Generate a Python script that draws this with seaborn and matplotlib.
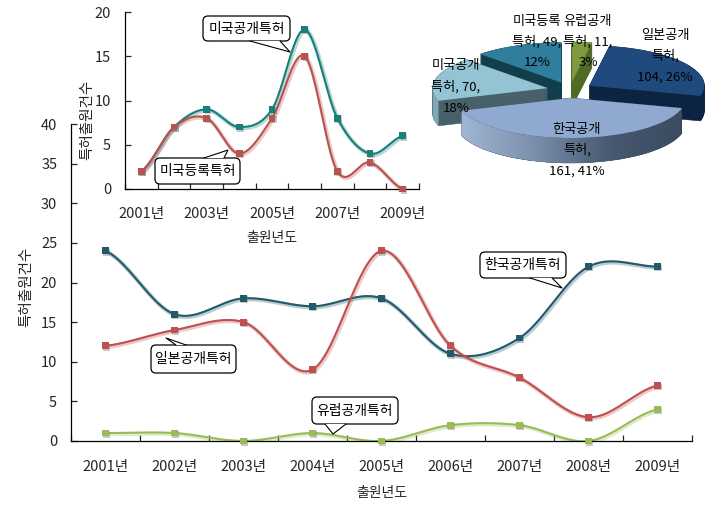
import numpy as np
import pandas as pd
import matplotlib
matplotlib.use("Agg")
import matplotlib.pyplot as plt
import matplotlib.patheffects as pe
from matplotlib.patches import FancyBboxPatch, Polygon
import seaborn as sns

years = ["2001년", "2002년", "2003년", "2004년", "2005년", "2006년", "2007년", "2008년", "2009년"]
korea_pub = [24, 16, 18, 17, 18, 11, 13, 22, 22]
japan_pub = [12, 14, 15, 9, 24, 12, 8, 3, 7]
europe_pub = [1, 1, 0, 1, 0, 2, 2, 0, 4]
us_pub = [2, 7, 9, 7, 9, 18, 8, 4, 6]
us_reg = [2, 7, 8, 4, 8, 15, 2, 3, 0]

# clockwise from 12 o'clock
pie_names = ["유럽공개", "일본공개", "한국공개", "미국공개", "미국등록"]
pie_values = [11, 104, 161, 70, 49]

W, H = 720, 507

sns.set_theme(style="white")
plt.rcParams['font.family'] = ['Noto Sans CJK KR', 'DejaVu Sans']
plt.rcParams['text.color'] = '#111111'
plt.rcParams['axes.edgecolor'] = 'black'


def box(x0, y0, x1, y1):
    return [x0 / W, 1 - y1 / H, (x1 - x0) / W, (y1 - y0) / H]


def smooth(values, n=24):
    # same kind of curve as the spreadsheet "smoothed line" option
    y = np.array(values, dtype=float)
    xs, ys = [], []
    for i in range(len(y) - 1):
        p0, p1, p2, p3 = y[max(i - 1, 0)], y[i], y[i + 1], y[min(i + 2, len(y) - 1)]
        c1 = p1 + (p2 - p0) / 6
        c2 = p2 - (p3 - p1) / 6
        t = np.linspace(0, 1, n)
        ys.extend((1 - t) ** 3 * p1 + 3 * (1 - t) ** 2 * t * c1 + 3 * (1 - t) * t ** 2 * c2 + t ** 3 * p2)
        xs.extend(i + t)
    return xs, ys


def draw_lines(ax, series, palette, xlabel, ticks_every, pad, labelpad, ylabel_pos):
    frames, points = [], []
    for name, vals in series.items():
        xs, ys = smooth(vals)
        frames.append(pd.DataFrame({"x": xs, "y": ys, "s": name}))
        points.append(pd.DataFrame({"x": range(len(vals)), "y": vals, "s": name}))
    line_df = pd.concat(frames)
    point_df = pd.concat(points)

    sns.lineplot(data=line_df, x="x", y="y", hue="s", palette=palette, estimator=None, sort=False,
                 legend=False, lw=1.5, ax=ax)
    for line in ax.get_lines():
        line.set_path_effects([
            pe.SimpleLineShadow(offset=(0.8, -0.8), shadow_color=line.get_color(), alpha=0.3, linewidth=3),
            pe.Normal()])
    pts = sns.scatterplot(data=point_df, x="x", y="y", hue="s", palette=palette, marker="s", s=24,
                          linewidth=0, legend=False, clip_on=False, zorder=5, ax=ax)
    pts.collections[-1].set_path_effects([
        pe.SimplePatchShadow(offset=(1, -1), alpha=0.35, shadow_rgbFace='#666666'), pe.Normal()])

    ax.set_xlim(-0.5, len(years) - 0.5)
    ax.set_xticks(np.arange(len(years) + 1) - 0.5)
    ax.set_xticklabels([])
    ax.set_xticks(np.arange(0, len(years), ticks_every), minor=True)
    ax.set_xticklabels(years[::ticks_every], minor=True, fontsize=10.5)
    ax.tick_params(axis="x", which="major", direction="in", length=4, width=0.9, bottom=True)
    ax.tick_params(axis="x", which="minor", length=0, pad=pad)
    ax.tick_params(axis="y", direction="in", length=4.3, width=0.9, left=True, pad=10, labelsize=10.5)
    ax.set_xlabel(xlabel, fontsize=10, labelpad=labelpad)
    ax.set_ylabel("특허출원건수", fontsize=10.5)
    ax.yaxis.set_label_coords(*ylabel_pos)
    sns.despine(ax=ax)
    for sp in ax.spines.values():
        sp.set_linewidth(0.9)
    ax.patch.set_alpha(0)


fig = plt.figure(figsize=(W / 100, H / 100), dpi=100, facecolor="white")

# big chart
ax = fig.add_axes(box(71, 124, 692, 441))
draw_lines(ax, {"korea": korea_pub, "japan": japan_pub, "europe": europe_pub},
           {"korea": "#215a6b", "japan": "#bf5050", "europe": "#9bbb59"},
           "출원년도", 1, 14, 8, (-0.06, 0.486))
ax.set_ylim(0, 40)
ax.set_yticks(range(0, 41, 5))

# small chart on top of it
ax2 = fig.add_axes(box(125, 12, 419, 189))
draw_lines(ax2, {"us_pub": us_pub, "us_reg": us_reg},
           {"us_pub": "#17807a", "us_reg": "#b85450"},
           "출원년도", 2, 13, 7.5, (-0.105, 0.39))
ax2.set_ylim(0, 20)
ax2.set_yticks(range(0, 21, 5))

# fake 3d pie, stacked wedges squashed by the axes limits
pie_ax = fig.add_axes(box(420, 0, 720, 190))
top_colors = ["#7d9a3f", "#1f4a7d", "#8fa9d0", "#93c4d4", "#2f7f9c"]
cut_colors = ["#4f6b26", "#0c2342", "#3d4f68", "#47606a", "#123d4a"]
wall_colors = ["#5f7d2c", "#0c2342", "#46586f", "#7fa9b5", "#1f5f75"]
rank = [0, 2, 4, 3, 1]
depth = 0.625
n_layers = 26
for k in range(n_layers):
    off = -depth * (1 - k / (n_layers - 1))
    wedges, _ = pie_ax.pie(pie_values, explode=[0.2] * 5, startangle=90, counterclock=False,
                           colors=cut_colors, center=(0, off), wedgeprops={"lw": 0.4})
    for w, r, c in zip(wedges, rank, cut_colors):
        w.set_edgecolor(c)
        w.set_zorder(r * 10 + k / n_layers)

for w, r, c in zip(wedges, rank, wall_colors):
    # outer wall, only the part that faces the viewer
    t = np.radians(np.linspace(w.theta1, w.theta2, 120))
    t = t[np.sin(t) < 0]
    if len(t) == 0:
        continue
    cx, cy = w.center
    upper = np.c_[cx + np.cos(t), cy + np.sin(t)]
    lower = upper - [0, depth]
    outer = Polygon(np.r_[upper, lower[::-1]], closed=True, fc=c, ec="none", zorder=r * 10 + 5)
    pie_ax.add_patch(outer)
    if r == 4:
        grad = pie_ax.imshow(np.linspace(0, 1, 256)[None, :], extent=(-1.1, 1.1, -3, 1), aspect="auto",
                             cmap=matplotlib.colors.LinearSegmentedColormap.from_list(
                                 "wall", ["#a9bfdc", "#7f93b0", "#46586f", "#39485c"]),
                             zorder=r * 10 + 6)
        grad.set_clip_path(outer)

tops, _ = pie_ax.pie(pie_values, explode=[0.2] * 5, startangle=90, counterclock=False,
                     colors=top_colors, wedgeprops={"lw": 0})
for w, r in zip(tops, rank):
    w.set_zorder(r * 10 + 8)
pie_ax.set_aspect("auto")
pie_ax.set_xlim(-150 / 115, 150 / 115)
pie_ax.set_ylim(-100 / 40, 90 / 40)
pie_ax.axis("off")

# overlay in pixel coordinates for callouts and pie labels
ov = fig.add_axes([0, 0, 1, 1], zorder=10)
ov.set_xlim(0, W)
ov.set_ylim(H, 0)
ov.axis("off")
ov.patch.set_alpha(0)


def callout(text, x0, y0, x1, y1, base0, base1, tip, top_side=False):
    ov.add_patch(FancyBboxPatch((x0 + 4, y0 + 4), x1 - x0 - 8, y1 - y0 - 8,
                                boxstyle="round,pad=4,rounding_size=5", fc="white", ec="black", lw=0.9))
    edge = y0 if top_side else y1
    ov.add_patch(Polygon([(base0, edge), tip, (base1, edge)], closed=False, fc="white", ec="none", zorder=2))
    ov.plot([base0, tip[0], base1], [edge, tip[1], edge], color="black", lw=0.8, zorder=3)
    ov.text((x0 + x1) / 2, (y0 + y1) / 2, text, ha="center", va="center", fontsize=10, color="black", zorder=4)


callout("미국공개특허", 203, 16, 290, 41, 250, 280, (290, 52))
callout("미국등록특허", 155, 158, 240, 184, 204, 224, (228, 150), top_side=True)
callout("일본공개특허", 151, 345, 236, 373, 176, 186, (166, 338), top_side=True)
callout("유럽공개특허", 312, 397, 398, 424, 325, 346, (333, 434))
callout("한국공개특허", 480, 252, 566, 278, 530, 552, (562, 288))

total = sum(pie_values)
pct = [f"{round(v / total * 100)}%" for v in pie_values]
label_lines = [
    [pie_names[0], f"특허, {pie_values[0]},", pct[0]],
    [pie_names[1], "특허,", f"{pie_values[1]}, {pct[1]}"],
    [pie_names[2], "특허,", f"{pie_values[2]}, {pct[2]}"],
    [pie_names[3], f"특허, {pie_values[3]},", pct[3]],
    [pie_names[4], f"특허, {pie_values[4]},", pct[4]],
]
label_pos = [(588, 21), (665, 35), (577, 129), (456, 66), (537, 21)]
for lines, (lx, ly) in zip(label_lines, label_pos):
    for j, s in enumerate(lines):
        ov.text(lx, ly + j * 21, s, ha="center", va="center", fontsize=9.5, color="black", zorder=6)

fig.savefig("out.png", dpi=100, facecolor="white")
